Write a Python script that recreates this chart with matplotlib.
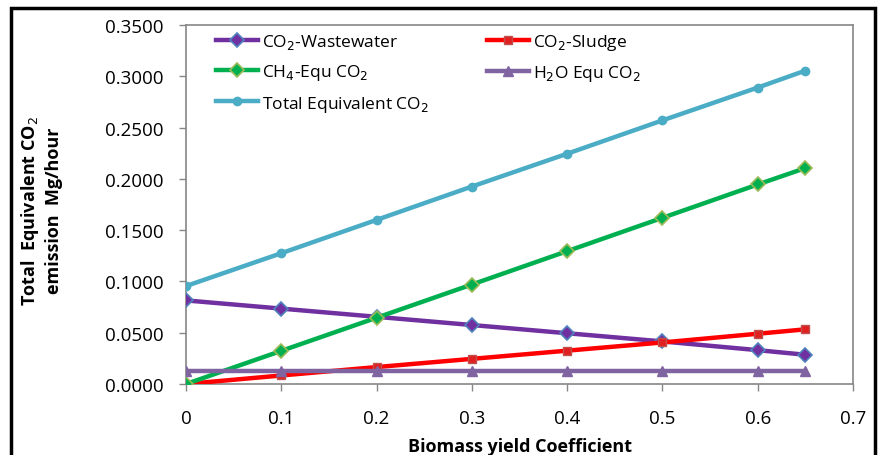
import matplotlib
matplotlib.use("Agg")
import matplotlib.pyplot as plt
from matplotlib.patches import Rectangle

plt.rcParams['font.family'] = ['Open Sans', 'DejaVu Sans']

x = [0, 0.1, 0.2, 0.3, 0.4, 0.5, 0.6, 0.65]
co2_wastewater = [0.0815, 0.0735, 0.0655, 0.0575, 0.0495, 0.0415, 0.0330, 0.0285]
co2_sludge = [0.0000, 0.0083, 0.0165, 0.0245, 0.0325, 0.0405, 0.0490, 0.0533]
ch4_equ = [0.0000, 0.0323, 0.0646, 0.0970, 0.1295, 0.1620, 0.1945, 0.2105]
h2o_equ = [0.0130, 0.0130, 0.0130, 0.0130, 0.0130, 0.0130, 0.0130, 0.0130]
total_equ = [0.0955, 0.1275, 0.1600, 0.1925, 0.2245, 0.2570, 0.2890, 0.3055]

yticks = [0.0, 0.05, 0.10, 0.15, 0.20, 0.25, 0.30, 0.35]
xticks = [0, 0.1, 0.2, 0.3, 0.4, 0.5, 0.6, 0.7]

fig = plt.figure(figsize=(8.79, 4.56), dpi=100)
ax = fig.add_axes([186/879, 1-385/456, (853-186)/879, (385-26)/456])

lw = 3.2
l_ww, = ax.plot(x, co2_wastewater, color='#7030A0', lw=lw, marker='D', ms=7,
                mfc='#7030A0', mec='#4F81BD', mew=1.2, label='CO$_2$-Wastewater', zorder=3)
l_sl, = ax.plot(x, co2_sludge, color='#FF0000', lw=lw, marker='s', ms=6,
                mfc='#E02020', mec='#C0504D', mew=1.0, label='CO$_2$-Sludge', zorder=3)
l_ch4, = ax.plot(x, ch4_equ, color='#00B050', lw=lw, marker='D', ms=7,
                 mfc='#00B050', mec='#9BBB59', mew=1.2, label='CH$_4$-Equ CO$_2$', zorder=3)
l_h2o, = ax.plot(x, h2o_equ, color='#8064A2', lw=lw, marker='^', ms=7,
                 mfc='#8064A2', mec='#8064A2', label='H$_2$O Equ CO$_2$', zorder=3)
l_tot, = ax.plot(x, total_equ, color='#4BACC6', lw=lw, marker='o', ms=6,
                 mfc='#4BACC6', mec='#4BACC6', label='Total Equivalent CO$_2$', zorder=3)

ax.set_xlim(0, 0.7)
ax.set_ylim(0, 0.35)
ax.set_xticks(xticks)
ax.set_xticklabels(['0', '0.1', '0.2', '0.3', '0.4', '0.5', '0.6', '0.7'])
ax.set_yticks(yticks)
ax.set_yticklabels([f'{v:.4f}' for v in yticks])
ax.tick_params(axis='both', labelsize=13.5, color='#868686', length=5, width=1,
               direction='out')
ax.tick_params(axis='x', pad=13)
ax.tick_params(axis='y', pad=11)
for s in ax.spines.values():
    s.set_color('#868686')
    s.set_linewidth(1.2)

ax.set_xlabel('Biomass yield Coefficient', fontsize=13, fontweight='bold', labelpad=7)
fig.text(41/879, 1-211/456, 'Total  Equivalent CO$_2$\nemission  Mg/hour', fontsize=13,
         fontweight='bold', rotation=90, ha='center', va='center', linespacing=1.3)

handles = [l_ww, l_ch4, l_tot, l_sl, l_h2o]
leg = ax.legend(handles=handles, labels=[h.get_label() for h in handles],
                loc='upper left', bbox_to_anchor=((216-186)/667, (385-33)/359),
                ncol=2, frameon=False, borderpad=0, borderaxespad=0,
                fontsize=12.5, handlelength=2.4, handletextpad=0.25,
                columnspacing=3.35, labelspacing=0.65)

fig.patches.append(Rectangle((11/879, -0.05), (875-11)/879, 1-9/456+0.05,
                             transform=fig.transFigure, fill=False,
                             edgecolor='black', linewidth=2.5, zorder=10))

fig.savefig('out.png', dpi=100)
